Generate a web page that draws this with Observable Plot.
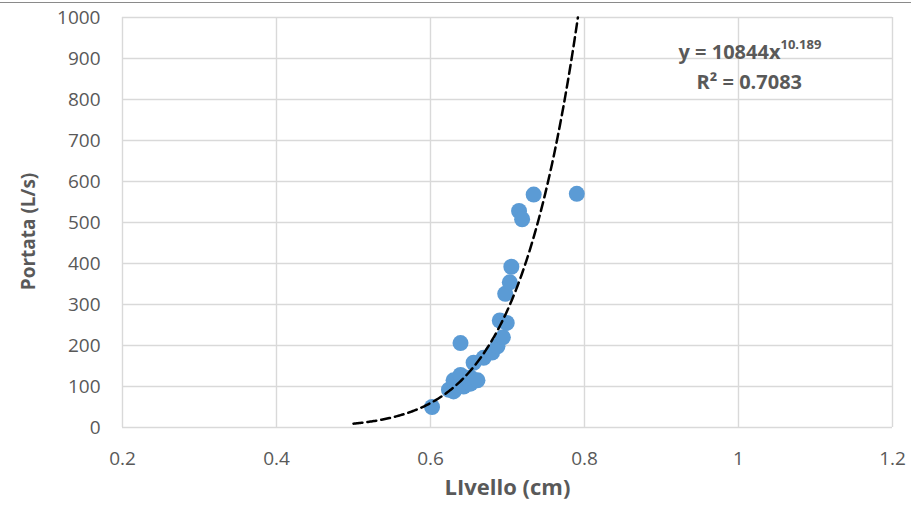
<!DOCTYPE html>
<html>
<head>
<meta charset="utf-8">
<script src="https://cdn.jsdelivr.net/npm/d3@7"></script>
<script src="https://cdn.jsdelivr.net/npm/@observablehq/plot@0.6"></script>
<style>
  html, body { margin: 0; padding: 0; background: #fff; }
  #wrap { position: relative; width: 911px; height: 511px; overflow: hidden; }
  #topline { position: absolute; left: 0; top: 2px; width: 911px; height: 1px; background: #8a8a8a; }
</style>
</head>
<body>
<div id="wrap"><div id="topline"></div><div id="chart"></div></div>
<script>
// Observed data: Livello (cm) vs Portata (L/s)
const livello = [0.602, 0.624, 0.630, 0.630, 0.639, 0.643, 0.652, 0.652, 0.661, 0.656, 0.669, 0.680,
                 0.687, 0.694, 0.690, 0.699, 0.697, 0.703, 0.705, 0.715, 0.719, 0.734, 0.790, 0.639];
const portata = [50, 92, 88, 115, 128, 100, 107, 122, 115, 158, 170, 183,
                 198, 220, 261, 255, 326, 354, 392, 528, 508, 568, 570, 206];

// Power trendline shown in the chart: y = a * x^b
const trendA = 10844;
const trendB = 10.189;
const trendR2 = 0.7083;
const trendStart = 0.5;

const xTicks = [0.2, 0.4, 0.6, 0.8, 1, 1.2];
const yTicks = [0, 100, 200, 300, 400, 500, 600, 700, 800, 900, 1000];

const points = livello.map((x, i) => ({x, y: portata[i]}));
const trendEnd = Math.pow(1000 / trendA, 1 / trendB);
const trend = d3.range(0, 201).map(i => {
  const x = trendStart + (trendEnd - trendStart) * i / 200;
  return {x, y: trendA * Math.pow(x, trendB)};
});

const grey = "#595959";
const chart = Plot.plot({
  width: 911,
  height: 511,
  marginLeft: 122,
  marginRight: 19,
  marginTop: 17,
  marginBottom: 84,
  style: {fontFamily: "'Open Sans', Lato, sans-serif", fontSize: "19px", color: grey, background: "transparent", overflow: "visible"},
  x: {domain: [0.2, 1.2]},
  y: {domain: [0, 1000]},
  marks: [
    Plot.gridX(xTicks, {stroke: "#d9d9d9", strokeOpacity: 1, strokeWidth: 1.4}),
    Plot.gridY(yTicks, {stroke: "#d9d9d9", strokeOpacity: 1, strokeWidth: 1.4}),
    Plot.axisX(xTicks, {tickSize: 0, tickPadding: 24, label: null, fill: grey, tickFormat: d => String(d)}),
    Plot.axisY(yTicks, {tickSize: 0, tickPadding: 22, label: null, fill: grey, tickFormat: d => String(d)}),
    Plot.dot(points, {x: "x", y: "y", r: 8, fill: "#5B9BD5", stroke: "none"}),
    Plot.line(trend, {x: "x", y: "y", stroke: "black", strokeWidth: 2.5, strokeDasharray: "9,5"}),
    Plot.text(["LIvello (cm)"], {frameAnchor: "bottom", dy: 67, text: d => d, fontSize: 22, fontWeight: "bold", fill: grey}),
    Plot.text(["Portata (L/s)"], {frameAnchor: "left", textAnchor: "middle", dx: -94, dy: 9, rotate: -90, text: d => d, fontSize: 19, fontWeight: "bold", fill: grey}),
    Plot.text([{x: 1.0545, y: 915}], {x: "x", y: "y", text: () => `y = ${trendA}x`, textAnchor: "end", fontSize: 20, fontWeight: "bold", fill: grey}),
    Plot.text([{x: 1.0545, y: 915}], {x: "x", y: "y", text: () => String(trendB), textAnchor: "start", dy: -8, fontSize: 13, fontWeight: "bold", fill: grey}),
    Plot.text([{x: 1.014, y: 841}], {x: "x", y: "y", text: () => `R² = ${trendR2}`, textAnchor: "middle", fontSize: 20, fontWeight: "bold", fill: grey})
  ]
});
document.getElementById("chart").appendChild(chart);
</script>
</body>
</html>
